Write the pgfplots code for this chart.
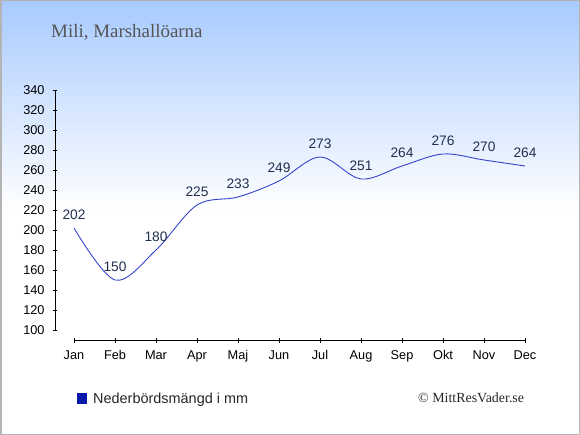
\documentclass[border=0pt]{standalone}
\usepackage{fontspec}
\setmainfont{Liberation Sans}
\newfontfamily\seriffont{Liberation Serif}
\usepackage{pgfplots}
\pgfplotsset{compat=1.18}
\definecolor{linecol}{RGB}{52,68,204}
\definecolor{labcol}{RGB}{34,48,80}
\definecolor{topblue}{RGB}{168,202,255}
\definecolor{legblue}{RGB}{8,24,168}
\definecolor{titlecol}{RGB}{85,85,85}
\begin{document}
\begin{tikzpicture}
\useasboundingbox (0,0) rectangle (580bp,435bp);
\fill[white] (0,0) rectangle (580bp,435bp);
\shade[top color=topblue, bottom color=white] (0,225bp) rectangle (580bp,435bp);
\draw[color={rgb,255:red,180;green,180;blue,180}, line width=1.5bp] (0.75bp,0.75bp) rectangle (579.25bp,434.25bp);
\node[anchor=base west, inner sep=0pt, font=\seriffont\fontsize{19}{22}\selectfont, text=titlecol] at (51bp,397bp) {Mili, Marshallöarna};
\begin{axis}[
  at={(55bp,94.3bp)}, anchor=south west,
  scale only axis, width=470bp, height=250.7bp,
  xmin=-0.4634, xmax=11, ymin=89.3, ymax=340,
  axis line style={draw=none},
  clip=false,
  xtick={0,...,11},
  xticklabels={Jan,Feb,Mar,Apr,Maj,Jun,Jul,Aug,Sep,Okt,Nov,Dec},
  ytick={100,120,...,340},
  tick align=center, major tick length=4.5bp,
  tick style={black, line width=0.8bp},
  xtick pos=bottom, ytick pos=left,
  tick label style={font=\fontsize{12.8}{14}\selectfont, text=black},
  xticklabel style={anchor=base, inner sep=0pt, yshift=-16.3bp},
  yticklabel style={anchor=east, inner sep=0pt, xshift=-8bp},
  /pgf/number format/assume math mode=true,
]
\addplot[color=linecol, line width=0.9bp, smooth, tension=0.55, mark=none,
  nodes near coords,
  every node near coord/.append style={anchor=base, inner sep=0pt, yshift=8bp, font=\fontsize{13.8}{16}\selectfont, text=labcol},
] coordinates {
(0,202) (1,150) (2,180) (3,225) (4,233) (5,249) (6,273) (7,251) (8,264) (9,276) (10,270) (11,264)
};
\draw[black, line width=0.9bp] (axis cs:-0.4634,100) -- (axis cs:-0.4634,340);
\draw[black, line width=0.9bp] (axis cs:0,89.3) -- (axis cs:11,89.3);
\end{axis}
\fill[legblue] (77bp,31bp) rectangle (87bp,41.5bp);
\node[anchor=base west, inner sep=0pt, font=\fontsize{14.5}{17}\selectfont, text=black!85] at (93bp,32bp) {Nederbördsmängd i mm};
\node[anchor=base west, inner sep=0pt, font=\seriffont\fontsize{14}{16}\selectfont, text=black!85] at (418bp,33bp) {© MittResVader.se};
\end{tikzpicture}
\end{document}
